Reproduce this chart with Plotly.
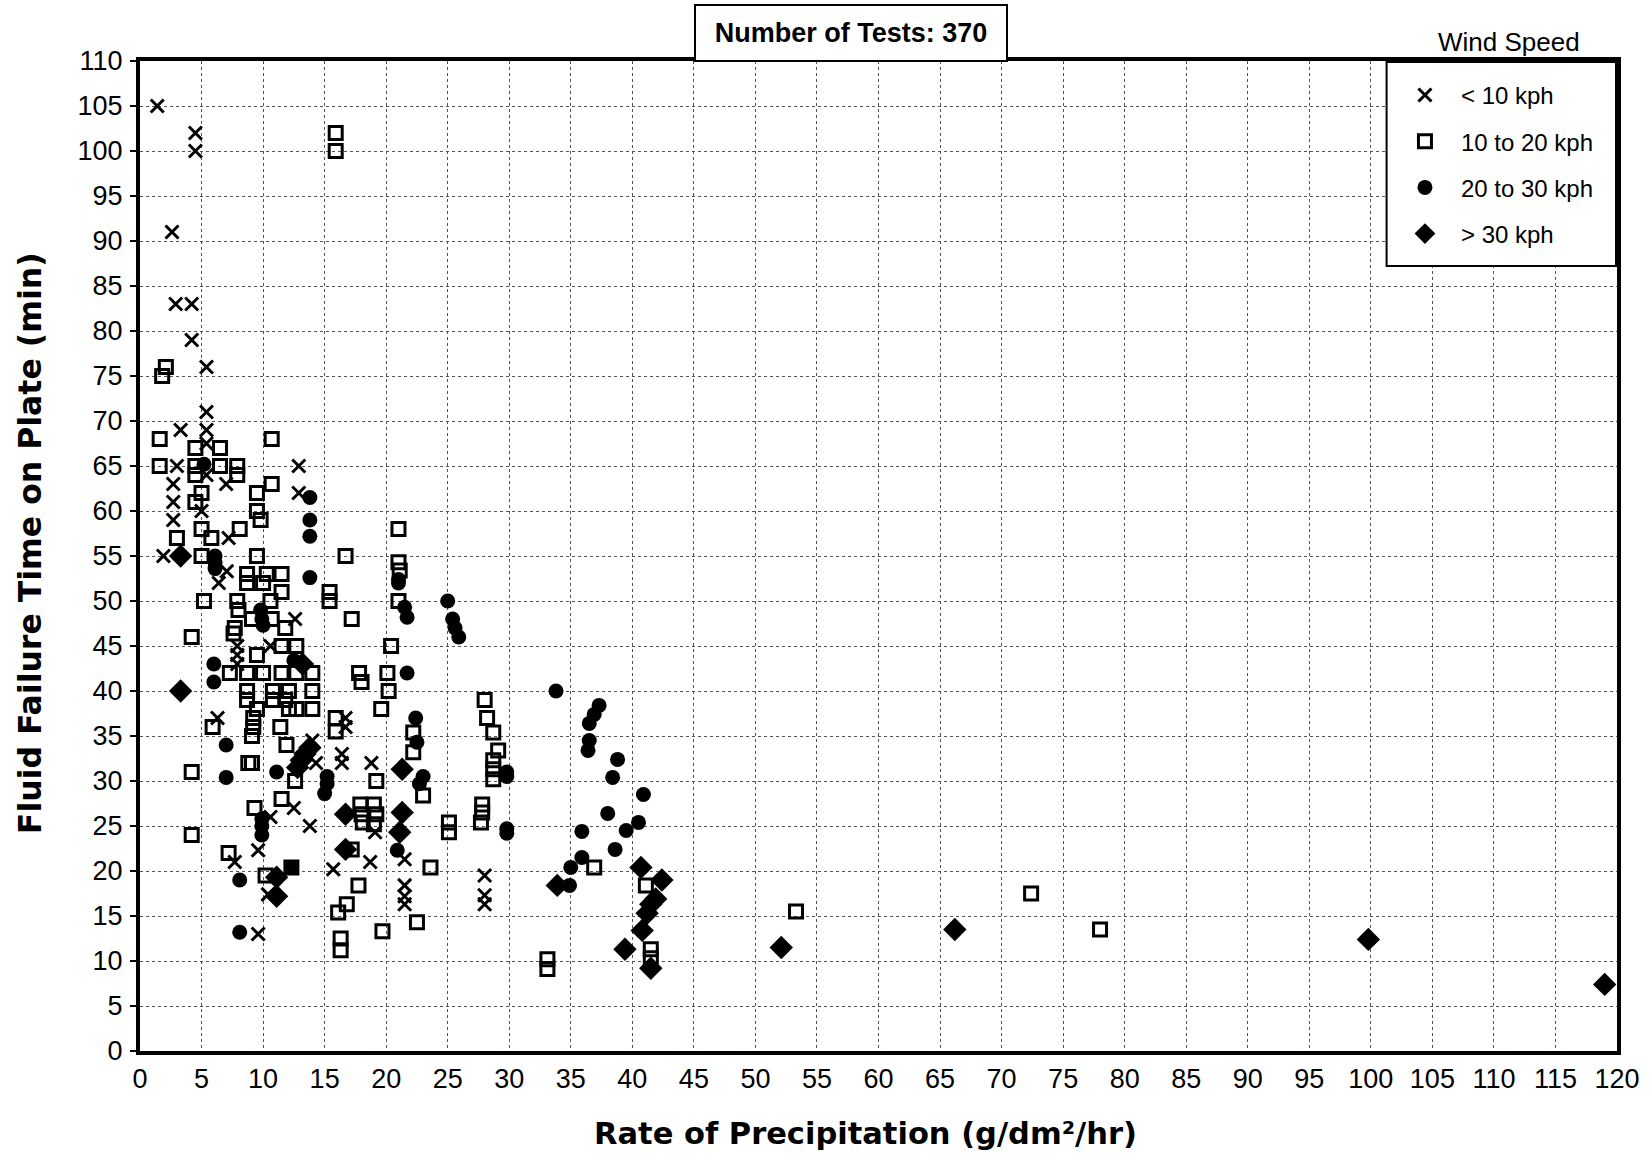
import plotly.graph_objects as go

# ---- data (Rate of Precipitation g/dm2/hr, Fluid Failure Time min) ----
lt10_x = [1.4, 4.5, 4.5, 2.6, 2.9, 4.2, 4.2, 5.4, 5.4, 3.3, 5.4, 5.4, 3.0, 12.9, 5.4, 7.0, 2.7, 12.9, 2.7, 5.0,
          2.7, 7.2, 1.9, 7.05, 6.4, 12.6, 10.6, 7.9, 7.9, 7.9, 6.3, 16.7, 16.7, 14.0, 14.3, 16.4, 16.4, 18.8, 12.5, 10.6,
          13.8, 19.1, 7.7, 9.6, 18.7, 15.7, 21.5, 10.4, 9.6, 21.5, 21.5, 21.5, 28.0, 28.0, 28.0]
lt10_y = [105, 102, 100, 91, 83, 83, 79, 76, 71, 69, 69, 67.5, 65, 65, 64, 63, 63, 62, 61, 60,
          59, 57, 55, 53.3, 52, 48, 45, 45, 44, 43, 37, 37, 36, 34.5, 32, 33, 32, 32, 27, 26,
          25, 24.3, 21, 22.3, 21, 20.2, 21.3, 17.4, 13, 18.4, 17.2, 16.3, 19.5, 17.3, 16.3]

b10_20_x = [15.9, 15.9, 2.1, 1.8, 1.6, 10.7, 4.5, 6.5, 1.6, 4.5, 6.5, 7.9, 4.5, 7.9, 10.7, 9.5, 5.0, 4.5, 9.5, 9.8,
            5.0, 8.1, 3.0, 5.8, 21.0, 5.0, 9.5, 16.7, 8.7, 8.7, 10.3, 10.0, 11.5, 11.5, 15.4, 15.4, 5.2, 7.9, 8.0, 10.6,
            21.0, 21.1, 21.0, 9.1, 10.7, 17.2, 11.8, 7.7, 7.6, 4.2, 11.5, 12.7, 20.4, 9.5, 7.3, 8.7, 10.0, 11.5, 12.7, 14.0,
            17.8, 18.0, 20.1, 8.7, 10.8, 12.1, 14.0, 20.2, 8.7, 10.8, 11.8, 9.5, 12.1, 12.7, 14.0, 19.6, 28.0, 28.2, 5.9, 9.2,
            9.2, 9.1, 11.4, 15.9, 15.9, 11.9, 28.7, 22.2, 22.2, 29.1, 28.7, 28.7, 28.7, 4.2, 8.8, 9.1, 12.6, 19.2, 11.5, 9.3,
            23.0, 17.9, 19.0, 18.0, 19.2, 18.1, 19.0, 25.1, 25.1, 27.8, 27.8, 27.7, 4.2, 7.2, 17.2, 12.3, 10.2, 17.75, 23.6, 16.8,
            16.1, 16.3, 16.3, 19.7, 22.5, 33.1, 33.1, 36.9, 41.1, 41.5, 41.5, 53.3, 72.4, 78.0]
b10_20_y = [102, 100, 76, 75, 68, 68, 67, 67, 65, 65, 65, 65, 64, 64, 63, 62, 62, 61, 60, 59,
            58, 58, 57, 57, 58, 55, 55, 55, 53, 52, 53, 52, 53, 51, 51, 50, 50, 50, 49, 50,
            54.3, 53.4, 50, 48, 48, 48, 47, 47, 46.4, 46, 45, 45, 45, 44, 42, 42, 42, 42, 42, 42,
            42, 41, 42, 40, 40, 40, 40, 40, 39, 39, 39, 38, 38, 38, 38, 38, 39, 37, 36, 37,
            36, 35, 36, 37, 35.5, 34, 35.4, 35.4, 33.2, 33.4, 32.3, 31.3, 30.2, 31, 32, 32, 30, 30, 28, 27,
            28.4, 27.4, 27.4, 26.3, 26.3, 25.4, 25.2, 25.4, 24.3, 27.4, 26.5, 25.4, 24, 22, 22.4, 20.4, 19.5, 18.4, 20.4, 16.3,
            15.4, 12.5, 11.2, 13.3, 14.3, 10.2, 9.1, 20.4, 18.4, 11.3, 10.3, 15.5, 17.5, 13.5]

b20_30_x = [5.2, 13.8, 13.8, 13.8, 6.1, 6.1, 6.1, 13.8, 9.8, 9.9, 10.0, 6.0, 6.0, 12.5, 21.0, 21.0, 21.5, 21.7, 25.0, 25.4,
            25.6, 25.9, 21.7, 33.8, 22.4, 22.5, 7.0, 7.0, 11.1, 15.2, 15.2, 15.0, 23.0, 22.7, 29.8, 29.8, 9.9, 9.9, 9.9, 29.8,
            29.8, 20.9, 8.1, 8.1, 37.3, 36.9, 36.5, 36.5, 36.4, 38.8, 38.4, 40.9, 38.0, 40.5, 39.5, 35.9, 38.6, 35.9, 35.0, 34.9,
            12.3]
b20_30_y = [65.2, 61.5, 59, 57.2, 55, 54.3, 53.6, 52.6, 49, 48, 47.3, 43, 41, 43.4, 52.4, 52, 49.3, 48.2, 50, 48,
            47, 46, 42, 40, 37, 34.3, 34, 30.4, 31, 30.5, 29.7, 28.6, 30.5, 29.7, 31, 30.5, 25.8, 25, 24, 24.7,
            24.2, 22.3, 19, 13.2, 38.4, 37.4, 36.4, 34.5, 33.4, 32.4, 30.4, 28.5, 26.4, 25.4, 24.5, 24.4, 22.4, 21.5, 20.4, 18.4,
            20.4]

gt30_x = [3.3, 3.3, 13.2, 12.8, 13.1, 13.4, 13.8, 16.7, 16.7, 11.1, 11.1, 21.3, 21.3, 21.1, 33.9, 40.7, 42.4, 41.9, 41.5, 41.2,
          40.8, 39.4, 41.5, 52.1, 66.2, 99.8, 119.0]
gt30_y = [55, 40, 43, 31.5, 32.3, 33, 33.7, 26.3, 22.4, 19.3, 17.2, 31.3, 26.5, 24.3, 18.4, 20.4, 19.0, 16.9, 16.3, 15.3,
          13.4, 11.3, 9.2, 11.5, 13.5, 12.4, 7.4]

series_names = ["< 10 kph", "10 to 20 kph", "20 to 30 kph", "> 30 kph"]
x_ticks = list(range(0, 121, 5))
y_ticks = list(range(0, 111, 5))

FONT = "Liberation Sans, Arial, sans-serif"
TITLE_FONT = "DejaVu Sans, sans-serif"

fig = go.Figure()
styles = [
    dict(symbol="x-thin", size=13, line=dict(width=3, color="black"), color="black"),
    dict(symbol="square-open", size=13, line=dict(width=3, color="black"), color="black"),
    dict(symbol="circle", size=15, color="black", line=dict(width=0)),
    dict(symbol="diamond", size=18, color="black", line=dict(width=0)),
]
data = [(lt10_x, lt10_y), (b10_20_x, b10_20_y), (b20_30_x, b20_30_y), (gt30_x, gt30_y)]
for i, ((xs, ys), name, st) in enumerate(zip(data, series_names, styles)):
    fig.add_trace(go.Scatter(x=xs, y=ys, mode="markers", name=name, marker=st,
                             legendgroup=f"g{i}", cliponaxis=False))

axis_common = dict(showline=True, linewidth=4, linecolor="black", mirror=True,
                   showgrid=True, gridcolor="#555", gridwidth=1, griddash="dot",
                   zeroline=False, tickfont=dict(family=FONT, size=27, color="black"))

fig.update_xaxes(range=[0, 120], tickvals=x_ticks, ticktext=[str(v) for v in x_ticks],
                 ticks="", ticklabelstandoff=1, **axis_common)
fig.update_yaxes(range=[0, 110], tickvals=y_ticks, ticktext=[str(v) for v in y_ticks],
                 ticks="outside", ticklen=6, tickwidth=1.5, tickcolor="black", ticklabelstandoff=2,
                 **axis_common)

fig.update_layout(
    width=1652, height=1155,
    margin=dict(l=140, r=35, t=61, b=104),
    paper_bgcolor="white", plot_bgcolor="white",
    font=dict(family=FONT, color="black"),
    showlegend=True,
    legend=dict(x=0.8456, y=0.988, xanchor="left", yanchor="top",
                bgcolor="rgba(0,0,0,0)", borderwidth=0,
                font=dict(family=FONT, size=24, color="black"),
                tracegroupgap=12, itemwidth=62),
    shapes=[
        dict(type="rect", xref="paper", yref="paper", x0=0.844, x1=1.0, y0=0.793, y1=1.0,
             line=dict(color="black", width=2), fillcolor="white", layer="above"),
        dict(type="line", xref="paper", yref="paper", x0=0.844, x1=1.0, y0=1.0, y1=1.0,
             line=dict(color="black", width=4), layer="above"),
        dict(type="line", xref="paper", yref="paper", x0=1.0, x1=1.0, y0=0.793, y1=1.0,
             line=dict(color="black", width=4), layer="above"),
    ],
    annotations=[
        dict(text="<b>Number of Tests: 370</b>", xref="paper", yref="paper",
             x=0.4814, y=1.0, xanchor="center", yanchor="bottom", yshift=-1,
             width=290, height=34,
             showarrow=False, font=dict(family=FONT, size=27, color="black"),
             bordercolor="black", borderwidth=2, borderpad=10, bgcolor="white"),
        dict(text="Wind Speed", xref="paper", yref="paper",
             x=0.927, y=1.0, xanchor="center", yanchor="bottom", yshift=2,
             showarrow=False, font=dict(family=FONT, size=26, color="black")),
        dict(text="<b>Rate of Precipitation (g/dm²/hr)</b>", xref="paper", yref="paper",
             x=0.491, y=0.0, xanchor="center", yanchor="middle", yshift=-82,
             showarrow=False, font=dict(family=TITLE_FONT, size=30.5, color="black")),
        dict(text="<b>Fluid Failure Time on Plate (min)</b>", xref="paper", yref="paper",
             x=0.0, y=0.513, xanchor="center", yanchor="middle", xshift=-110, textangle=-90,
             showarrow=False, font=dict(family=TITLE_FONT, size=31.5, color="black")),
    ],
)

fig.write_html("out.html")
